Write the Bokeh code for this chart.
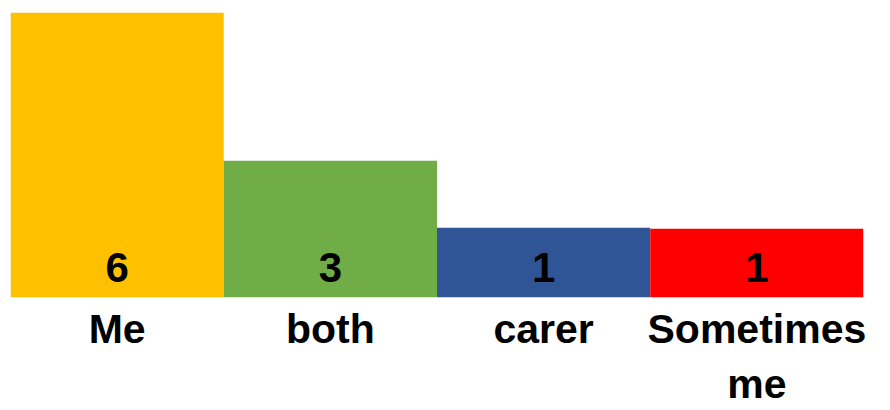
from bokeh.plotting import figure
from bokeh.models import ColumnDataSource, FactorRange, Range1d
from bokeh.core.properties import value
from bokeh.embed import file_html
from bokeh.resources import INLINE

# ---- data ----
categories = ["Me", "both", "carer", "Sometimes\nme"]
counts = [6, 3, 1, 1]                      # printed values
bar_heights = [6.0, 2.88, 1.47, 1.45]      # drawn bar heights (as they appear, same scale as "6")
colors = ["#FFC000", "#70AD47", "#2F5597", "#FF0000"]

src = ColumnDataSource(dict(
    cat=categories,
    h=bar_heights,
    label=[str(c) for c in counts],
    color=colors,
))

p = figure(
    width=890, height=410,
    x_range=FactorRange(*categories, range_padding=0),
    y_range=Range1d(0, 6),
    output_backend="svg", toolbar_location=None,
    min_border_left=10, min_border_right=27, min_border_top=12, min_border_bottom=113,
)

p.vbar(x="cat", top="h", bottom=0, width=1.0, color="color", line_color=None, source=src)

p.text(x="cat", y=0, text="label", source=src,
       text_font=value("Liberation Sans"), text_font_style="bold",
       text_font_size="42px", text_color="black",
       text_align="center", text_baseline="middle", y_offset=-30)

p.yaxis.visible = False
p.grid.visible = False
p.outline_line_color = None
p.background_fill_color = "white"
p.border_fill_color = "white"

ax = p.xaxis[0]
ax.axis_line_color = None
ax.major_tick_line_color = None
ax.minor_tick_line_color = None
ax.major_tick_out = 0
ax.major_tick_in = 0
ax.major_label_standoff = 8
ax.major_label_text_font = "Liberation Sans"
ax.major_label_text_font_style = "bold"
ax.major_label_text_font_size = "41px"
ax.major_label_text_color = "black"

open("out.html", "w").write(file_html(p, INLINE))
